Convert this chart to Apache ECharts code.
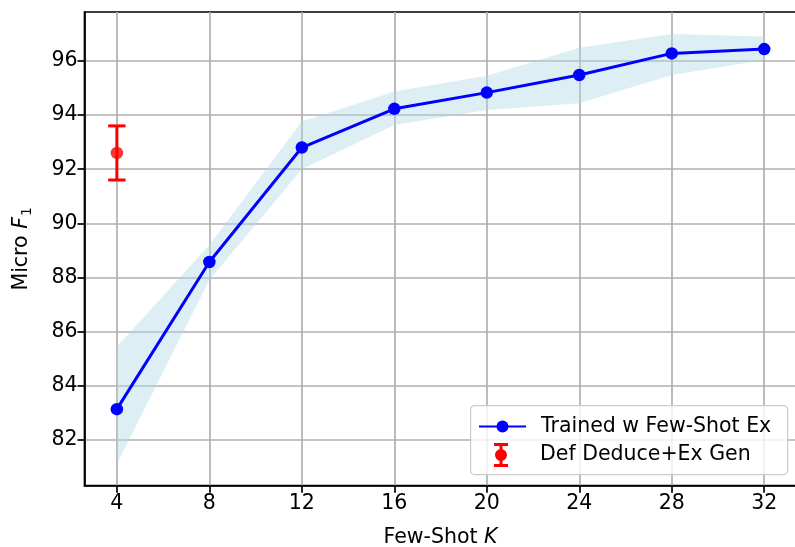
<!DOCTYPE html>
<html>
<head>
<meta charset="utf-8">
<script src="https://cdn.jsdelivr.net/npm/echarts@6/dist/echarts.min.js"></script>
<style>
  html, body { margin: 0; padding: 0; background: #ffffff; }
  #chart { width: 795px; height: 547px; }
</style>
</head>
<body>
<div id="chart"></div>
<script>
// ---- data ----
const kValues      = [4, 8, 12, 16, 20, 24, 28, 32];
const trainedMean  = [83.13, 88.57, 92.80, 94.23, 94.83, 95.48, 96.28, 96.44];
const trainedUpper = [85.44, 89.20, 93.76, 94.87, 95.45, 96.49, 97.00, 96.90];
const trainedLower = [81.10, 87.90, 92.00, 93.63, 94.19, 94.44, 95.48, 96.04];
const defK    = [4];
const defMean = [92.6];
const defErr  = [1.0];
const xTicks = [4, 8, 12, 16, 20, 24, 28, 32];
const yTicks = [82, 84, 86, 88, 90, 92, 94, 96];
const seriesNames = ['Trained w Few-Shot Ex', 'Def Deduce+Ex Gen'];

// ---- build ----
const FONT = 'DejaVu Sans';
const FS = 20.5;
const meanData = kValues.map((k, i) => [k, trainedMean[i]]);
const defData = defK.map((k, i) => [k, defMean[i]]);
const errData = defK.map((k, i) => [k, defMean[i] - defErr[i], defMean[i] + defErr[i]]);

const chart = echarts.init(document.getElementById('chart'), null, { renderer: 'canvas' });

const axisCommon = {
  axisLine: { show: true, onZero: false, lineStyle: { color: '#000', width: 1.7 } },
  axisTick: { show: true, inside: false, length: 7, lineStyle: { color: '#000', width: 1.7 } },
  splitLine: { show: true, lineStyle: { color: '#b0b0b0', width: 1.7 } },
  axisLabel: { color: '#000', fontFamily: FONT, fontSize: FS, margin: 7 }
};

const option = {
  animation: false,
  backgroundColor: '#ffffff',
  grid: { left: 84.5, right: -1.6, top: 12, bottom: 61.3, show: true, borderColor: '#000', borderWidth: 1.7,
          containLabel: false, outerBoundsMode: 'none' },
  xAxis: {
    type: 'value', min: 2.6, max: 33.4,
    axisLine: axisCommon.axisLine,
    axisTick: Object.assign({}, axisCommon.axisTick, { customValues: xTicks }),
    splitLine: axisCommon.splitLine,
    axisLabel: Object.assign({}, axisCommon.axisLabel, { customValues: xTicks }),
    name: '{n|Few-Shot }{i|K}',
    nameLocation: 'middle',
    nameGap: 41,
    nameTextStyle: {
      rich: {
        n: { fontFamily: FONT, fontSize: FS, color: '#000' },
        i: { fontFamily: FONT, fontSize: FS, fontStyle: 'italic', color: '#000' }
      }
    }
  },
  yAxis: {
    type: 'value', min: 80.30, max: 97.81,
    axisLine: axisCommon.axisLine,
    axisTick: Object.assign({}, axisCommon.axisTick, { customValues: yTicks }),
    splitLine: axisCommon.splitLine,
    axisLabel: Object.assign({}, axisCommon.axisLabel, { customValues: yTicks }),
    name: '{n|Micro }{i|F}{s|1}',
    nameLocation: 'middle',
    nameRotate: 90,
    nameGap: 50,
    nameTextStyle: {
      rich: {
        n: { fontFamily: FONT, fontSize: FS, color: '#000', lineHeight: 26 },
        i: { fontFamily: FONT, fontSize: FS, fontStyle: 'italic', color: '#000', lineHeight: 26 },
        s: { fontFamily: FONT, fontSize: 14, color: '#000', lineHeight: 26, verticalAlign: 'bottom', padding: [0, 0, 0, 1] }
      }
    }
  },
  legend: [
    {
      data: [{ name: seriesNames[0] }],
      left: 478, top: 416, padding: 0,
      itemWidth: 47, itemHeight: 15,
      textStyle: { fontFamily: FONT, fontSize: FS, color: '#000', padding: [0, 0, 0, 10] },
      selectedMode: false, z: 10
    },
    {
      data: [{ name: seriesNames[1],
               icon: 'path://M0,0L14,0L14,3L8.5,3L8.5,21L14,21L14,24L0,24L0,21L5.5,21L5.5,3L0,3Z M1,12A6,6 0 1,1 13,12A6,6 0 1,1 1,12Z' }],
      left: 494, top: 443, padding: 0,
      itemWidth: 14, itemHeight: 24,
      itemStyle: { color: '#ff0000' },
      textStyle: { fontFamily: FONT, fontSize: FS, color: '#000', padding: [0, 0, 0, 27] },
      selectedMode: false, z: 10
    }
  ],
  graphic: [
    { type: 'rect', left: 470, top: 405, z: 9,
      shape: { width: 317, height: 69, r: 4 },
      style: { fill: 'rgba(255,255,255,0.8)', stroke: '#cccccc', lineWidth: 1.2 } }
  ],
  series: [
    {
      type: 'custom', name: 'band', silent: true, z: 1,
      data: [[kValues[0], trainedMean[0]]],
      renderItem: function (params, api) {
        const pts = [];
        for (let i = 0; i < kValues.length; i++) pts.push(api.coord([kValues[i], trainedUpper[i]]));
        for (let i = kValues.length - 1; i >= 0; i--) pts.push(api.coord([kValues[i], trainedLower[i]]));
        return { type: 'polygon', shape: { points: pts }, style: { fill: 'rgba(173,216,230,0.42)' } };
      }
    },
    {
      type: 'line', name: seriesNames[0], data: meanData, z: 3,
      symbol: 'circle', symbolSize: 12.5,
      lineStyle: { color: '#0000ff', width: 3 },
      itemStyle: { color: '#0000ff' }
    },
    {
      type: 'custom', name: seriesNames[1], data: errData, z: 4,
      itemStyle: { color: '#ff0000' },
      renderItem: function (params, api) {
        const x = api.value(0);
        const lo = api.coord([x, api.value(1)]);
        const hi = api.coord([x, api.value(2)]);
        const cw = 8.7;
        const st = { stroke: '#ff0000', lineWidth: 3 };
        return { type: 'group', children: [
          { type: 'line', shape: { x1: lo[0], y1: lo[1], x2: hi[0], y2: hi[1] }, style: st },
          { type: 'line', shape: { x1: lo[0] - cw, y1: lo[1], x2: lo[0] + cw, y2: lo[1] }, style: st },
          { type: 'line', shape: { x1: hi[0] - cw, y1: hi[1], x2: hi[0] + cw, y2: hi[1] }, style: st }
        ]};
      }
    },
    {
      type: 'scatter', name: seriesNames[1], data: defData, z: 5,
      symbol: 'circle', symbolSize: 12.5,
      itemStyle: { color: '#ff0000' }
    }
  ]
};
chart.setOption(option);
</script>
</body>
</html>
